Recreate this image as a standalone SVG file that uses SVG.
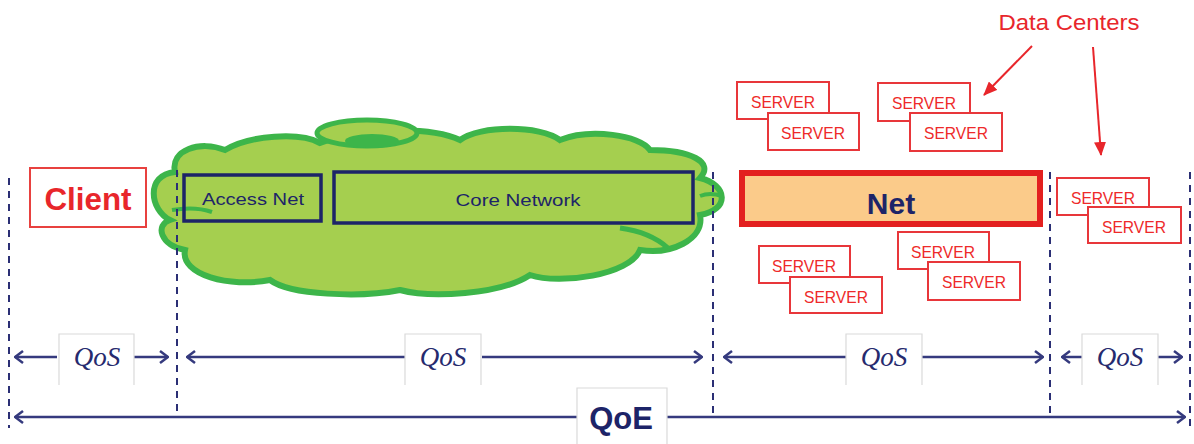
<svg xmlns="http://www.w3.org/2000/svg" width="1194" height="444" viewBox="0 0 1194 444">
<defs>
<style>
.dash{stroke:#2B2F75;stroke-width:2;stroke-dasharray:7,6;fill:none}
.arr{stroke:#353A7E;stroke-width:2.5;fill:none;marker-end:url(#chev)}
.lbl{fill:#fff;stroke:#DADADA;stroke-width:1.2}
.srv rect{fill:#fff;stroke:#E8363A;stroke-width:2}
.srv text{font-family:"Liberation Sans",Arial,sans-serif;font-size:17px;fill:#EE2A2A;text-anchor:middle}
.qos{font-family:"Liberation Serif","Times New Roman",serif;font-style:italic;font-size:27px;fill:#262A6E;text-anchor:middle}
.nav{stroke:#1D2468;stroke-width:3.5;fill:none}
.navt{font-family:"Liberation Sans",Arial,sans-serif;font-size:17px;fill:#1D2468;text-anchor:middle}
.red{stroke:#E8262B;stroke-width:2;fill:none;marker-end:url(#tri)}
</style>
<marker id="chev" viewBox="0 0 10 14" refX="9" refY="7" markerWidth="10" markerHeight="14" markerUnits="userSpaceOnUse" orient="auto">
<path d="M1,1 L9,7 L1,13" fill="none" stroke="#353A7E" stroke-width="2.5"/>
</marker>
<marker id="tri" viewBox="0 0 14 12" refX="13" refY="6" markerWidth="14" markerHeight="12" markerUnits="userSpaceOnUse" orient="auto">
<path d="M0,0 L14,6 L0,12 Z" fill="#E8262B"/>
</marker>
</defs>
<rect width="1194" height="444" fill="#fff"/>

<g id="cloud">
<path d="M175,172 C170,150 200,140 225,150 C250,135 300,132 320,143 C360,128 430,126 460,140 C480,125 540,125 560,140 C590,128 640,135 650,150 C690,150 715,162 700,178 C728,185 730,210 700,215 C705,240 670,255 640,250 C630,275 560,285 530,275 C500,295 430,298 400,290 C360,298 290,295 270,280 C230,288 180,275 185,250 C160,245 155,225 170,220 C150,210 145,175 175,172 Z" fill="#A5CF4F" stroke="#3DB54A" stroke-width="6"/>
<ellipse cx="367" cy="133" rx="50" ry="13" fill="#A5CF4F" stroke="#3DB54A" stroke-width="5"/>
<ellipse cx="372" cy="141" rx="27" ry="7" fill="#3DB54A"/>
<path d="M620,228 Q650,232 668,248" fill="none" stroke="#3DB54A" stroke-width="5"/>
<path d="M700,196 Q710,192 722,196" fill="none" stroke="#3DB54A" stroke-width="4"/>
<path d="M172,210 Q195,206 212,212" fill="none" stroke="#3DB54A" stroke-width="4"/>
</g>

<g id="dividers">
<line class="dash" x1="9" y1="178" x2="9" y2="428"/>
<line class="dash" x1="177" y1="170" x2="177" y2="418"/>
<line class="dash" x1="713" y1="172" x2="713" y2="418"/>
<line class="dash" x1="1050" y1="172" x2="1050" y2="413"/>
<line class="dash" x1="1190" y1="172" x2="1190" y2="430"/>
</g>

<g id="client">
<rect x="30" y="168" width="116" height="59" fill="#fff" stroke="#E8413F" stroke-width="2"/>
<text x="88" y="210" font-family="Liberation Sans,Arial,sans-serif" font-weight="bold" font-size="32" fill="#E8262B" text-anchor="middle" textLength="87" lengthAdjust="spacingAndGlyphs">Client</text>
</g>

<g id="access-net">
<rect class="nav" x="184" y="175" width="137" height="46"/>
<text class="navt" x="253" y="205" textLength="102" lengthAdjust="spacingAndGlyphs">Access Net</text>
</g>

<g id="core-network">
<rect class="nav" x="334" y="172" width="359" height="51"/>
<text class="navt" x="518" y="206" textLength="125" lengthAdjust="spacingAndGlyphs">Core Network</text>
</g>

<g id="net">
<rect x="742" y="173" width="298" height="51" fill="#FBCB8A" stroke="#E3201F" stroke-width="6"/>
<text x="891" y="214" font-family="Liberation Sans,Arial,sans-serif" font-weight="bold" font-size="30" fill="#1D2468" text-anchor="middle">Net</text>
</g>

<g id="servers" class="srv">
<g id="server1"><rect x="737" y="82" width="92" height="37"/><text x="783" y="108" textLength="64" lengthAdjust="spacingAndGlyphs">SERVER</text></g>
<g id="server2"><rect x="768" y="113" width="91" height="37"/><text x="813" y="139" textLength="64" lengthAdjust="spacingAndGlyphs">SERVER</text></g>
<g id="server3"><rect x="878" y="83" width="92" height="38"/><text x="924" y="109" textLength="64" lengthAdjust="spacingAndGlyphs">SERVER</text></g>
<g id="server4"><rect x="910" y="113" width="92" height="38"/><text x="956" y="139" textLength="64" lengthAdjust="spacingAndGlyphs">SERVER</text></g>
<g id="server5"><rect x="759" y="246" width="91" height="37"/><text x="804" y="272" textLength="64" lengthAdjust="spacingAndGlyphs">SERVER</text></g>
<g id="server6"><rect x="790" y="277" width="92" height="36"/><text x="836" y="303" textLength="64" lengthAdjust="spacingAndGlyphs">SERVER</text></g>
<g id="server7"><rect x="898" y="232" width="91" height="37"/><text x="943" y="258" textLength="64" lengthAdjust="spacingAndGlyphs">SERVER</text></g>
<g id="server8"><rect x="928" y="262" width="92" height="38"/><text x="974" y="288" textLength="64" lengthAdjust="spacingAndGlyphs">SERVER</text></g>
<g id="server9"><rect x="1057" y="178" width="92" height="37"/><text x="1103" y="204" textLength="64" lengthAdjust="spacingAndGlyphs">SERVER</text></g>
<g id="server10"><rect x="1088" y="207" width="93" height="36"/><text x="1134" y="233" textLength="64" lengthAdjust="spacingAndGlyphs">SERVER</text></g>
</g>

<g id="data-centers">
<text x="1069" y="30" font-family="Liberation Sans,Arial,sans-serif" font-size="22" fill="#E8262B" text-anchor="middle" textLength="141" lengthAdjust="spacingAndGlyphs">Data Centers</text>
</g>

<g id="connectors">
<line class="red" x1="1032" y1="46" x2="984" y2="95"/>
<line class="red" x1="1093" y1="47" x2="1101" y2="155"/>
<line class="arr" x1="57" y1="357" x2="15" y2="357"/>
<line class="arr" x1="133" y1="357" x2="168" y2="357"/>
<line class="arr" x1="405" y1="357" x2="187" y2="357"/>
<line class="arr" x1="482" y1="357" x2="702" y2="357"/>
<line class="arr" x1="846" y1="357" x2="724" y2="357"/>
<line class="arr" x1="922" y1="357" x2="1043" y2="357"/>
<line class="arr" x1="1082" y1="357" x2="1062" y2="357"/>
<line class="arr" x1="1158" y1="357" x2="1182" y2="357"/>
<line class="arr" x1="577" y1="417" x2="15" y2="417"/>
<line class="arr" x1="667" y1="417" x2="1185" y2="417"/>
</g>

<g id="qos1"><path class="lbl" d="M59,385 V334 H134 V385"/><text class="qos" x="97" y="366">QoS</text></g>
<g id="qos2"><path class="lbl" d="M405,385 V334 H481 V385"/><text class="qos" x="443" y="366">QoS</text></g>
<g id="qos3"><path class="lbl" d="M846,385 V334 H922 V385"/><text class="qos" x="884" y="366">QoS</text></g>
<g id="qos4"><path class="lbl" d="M1082,385 V334 H1158 V385"/><text class="qos" x="1120" y="366">QoS</text></g>
<g id="qoe"><path class="lbl" d="M577,444 V388 H667 V444"/><text x="621" y="429" font-family="Liberation Sans,Arial,sans-serif" font-weight="bold" font-size="31" fill="#1D2468" text-anchor="middle">QoE</text></g>
</svg>
